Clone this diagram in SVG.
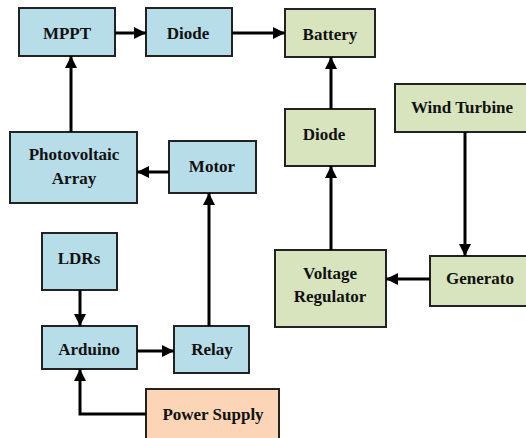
<svg xmlns="http://www.w3.org/2000/svg" width="526" height="438" viewBox="0 0 526 438">
<style>
.box{stroke:#222;stroke-width:2}
.blue{fill:#b7dde8}
.green{fill:#d7e4bd}
.peach{fill:#fbd5b5}
text{font-family:"Liberation Serif","Times New Roman",serif;font-weight:bold;font-size:17px;fill:#111;text-anchor:middle}
.c{fill:none;stroke:#000;stroke-width:3}
</style>
<defs>
<marker id="ah" markerUnits="userSpaceOnUse" markerWidth="14" markerHeight="12" refX="12" refY="6" orient="auto">
<path d="M0,0 L12,6 L0,12 Z" fill="#000"/>
</marker>
</defs>
<rect width="526" height="438" fill="#fff"/>
<g id="mppt"><rect class="box blue" x="19" y="8" width="96" height="48"/><text x="67" y="39">MPPT</text></g>
<g id="diode1"><rect class="box blue" x="146" y="8" width="86" height="48"/><text x="188" y="39">Diode</text></g>
<g id="battery"><rect class="box green" x="285" y="9" width="90" height="48"/><text x="330" y="40">Battery</text></g>
<g id="pv"><rect class="box blue" x="10" y="132" width="127" height="71"/><text x="74" y="160">Photovoltaic</text><text x="74" y="184">Array</text></g>
<g id="motor"><rect class="box blue" x="169" y="141" width="87" height="52"/><text x="212" y="172">Motor</text></g>
<g id="diode2"><rect class="box green" x="285" y="109" width="90" height="57"/><text x="324" y="140">Diode</text></g>
<g id="wind"><rect class="box green" x="395" y="84" width="140" height="48"/><text x="462" y="113">Wind Turbine</text></g>
<g id="ldrs"><rect class="box blue" x="42" y="233" width="75" height="57"/><text x="79" y="264">LDRs</text></g>
<g id="arduino"><rect class="box blue" x="42" y="326" width="95" height="43"/><text x="89" y="355">Arduino</text></g>
<g id="relay"><rect class="box blue" x="174" y="326" width="75" height="47"/><text x="212" y="355">Relay</text></g>
<g id="power"><rect class="box peach" x="146" y="389" width="133" height="60"/><text x="213" y="420">Power Supply</text></g>
<g id="vreg"><rect class="box green" x="275" y="250" width="111" height="77"/><text x="330" y="279">Voltage</text><text x="330" y="302">Regulator</text></g>
<g id="gen"><rect class="box green" x="430" y="256" width="105" height="50"/><text x="480" y="284">Generato</text></g>
<g id="connectors">
<path class="c" d="M115,33 H146" marker-end="url(#ah)"/>
<path class="c" d="M232,33 H285" marker-end="url(#ah)"/>
<path class="c" d="M71,132 V56" marker-end="url(#ah)"/>
<path class="c" d="M169,172 H137" marker-end="url(#ah)"/>
<path class="c" d="M209,326 V193" marker-end="url(#ah)"/>
<path class="c" d="M80,290 V326" marker-end="url(#ah)"/>
<path class="c" d="M137,351 H174" marker-end="url(#ah)"/>
<path class="c" d="M146,414 H80 V369" marker-end="url(#ah)"/>
<path class="c" d="M331,109 V57" marker-end="url(#ah)"/>
<path class="c" d="M331,250 V166" marker-end="url(#ah)"/>
<path class="c" d="M465,132 V256" marker-end="url(#ah)"/>
<path class="c" d="M430,279 H386" marker-end="url(#ah)"/>
</g>
</svg>
